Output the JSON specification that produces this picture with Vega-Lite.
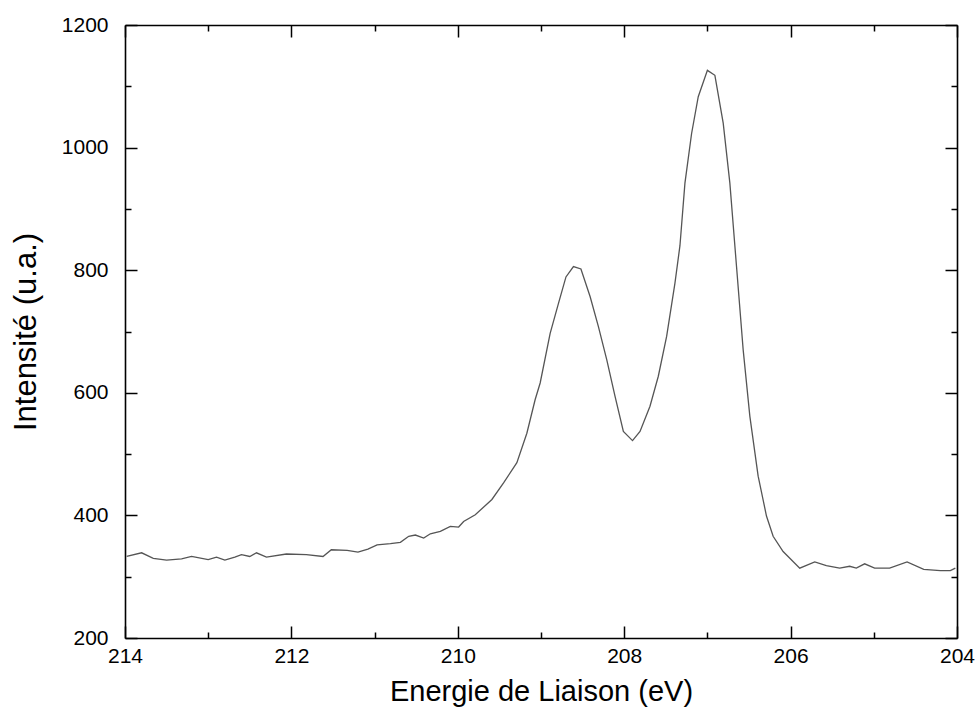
{
  "$schema": "https://vega.github.io/schema/vega-lite/v6.json",
  "width": 832,
  "height": 613,
  "autosize": {"type": "none"},
  "padding": {"left": 125, "top": 25, "right": 23, "bottom": 87},
  "background": "white",
  "config": {
    "view": {"stroke": null},
    "font": "Liberation Sans",
    "axis": {
      "domainColor": "black",
      "domainWidth": 1.6,
      "tickColor": "black",
      "tickWidth": 1.5,
      "grid": false,
      "labelFont": "Liberation Sans",
      "labelColor": "black",
      "titleFont": "Liberation Sans",
      "titleFontWeight": "normal",
      "titleColor": "black",
      "labelOverlap": false,
      "labelFlush": false
    }
  },
  "data": {
    "values": [
      {"E": 213.98, "I": 333}, {"E": 213.80, "I": 339}, {"E": 213.66, "I": 330},
      {"E": 213.50, "I": 327}, {"E": 213.32, "I": 329}, {"E": 213.20, "I": 333},
      {"E": 213.00, "I": 328}, {"E": 212.90, "I": 332}, {"E": 212.80, "I": 327},
      {"E": 212.68, "I": 332}, {"E": 212.60, "I": 336}, {"E": 212.50, "I": 333},
      {"E": 212.42, "I": 339}, {"E": 212.30, "I": 332}, {"E": 212.06, "I": 337},
      {"E": 211.82, "I": 336}, {"E": 211.62, "I": 333}, {"E": 211.52, "I": 344},
      {"E": 211.33, "I": 343}, {"E": 211.20, "I": 340}, {"E": 211.08, "I": 345},
      {"E": 210.97, "I": 352}, {"E": 210.81, "I": 354}, {"E": 210.69, "I": 356},
      {"E": 210.59, "I": 366}, {"E": 210.51, "I": 368}, {"E": 210.41, "I": 363},
      {"E": 210.33, "I": 370}, {"E": 210.21, "I": 374}, {"E": 210.09, "I": 382},
      {"E": 209.99, "I": 381}, {"E": 209.93, "I": 390}, {"E": 209.79, "I": 401},
      {"E": 209.59, "I": 426}, {"E": 209.45, "I": 453}, {"E": 209.29, "I": 486},
      {"E": 209.17, "I": 534}, {"E": 209.07, "I": 589}, {"E": 209.01, "I": 616},
      {"E": 208.89, "I": 697}, {"E": 208.79, "I": 746}, {"E": 208.70, "I": 789},
      {"E": 208.61, "I": 806}, {"E": 208.52, "I": 802}, {"E": 208.41, "I": 757},
      {"E": 208.31, "I": 708}, {"E": 208.21, "I": 654}, {"E": 208.11, "I": 594},
      {"E": 208.01, "I": 537}, {"E": 207.90, "I": 522}, {"E": 207.81, "I": 537},
      {"E": 207.69, "I": 578}, {"E": 207.59, "I": 627}, {"E": 207.49, "I": 692},
      {"E": 207.39, "I": 779}, {"E": 207.33, "I": 840}, {"E": 207.27, "I": 942},
      {"E": 207.19, "I": 1023}, {"E": 207.11, "I": 1083}, {"E": 207.00, "I": 1126},
      {"E": 206.91, "I": 1118}, {"E": 206.81, "I": 1040}, {"E": 206.73, "I": 942},
      {"E": 206.65, "I": 806}, {"E": 206.57, "I": 670}, {"E": 206.49, "I": 562},
      {"E": 206.39, "I": 464}, {"E": 206.29, "I": 399}, {"E": 206.21, "I": 366},
      {"E": 206.09, "I": 341}, {"E": 205.89, "I": 314}, {"E": 205.71, "I": 324},
      {"E": 205.57, "I": 318}, {"E": 205.41, "I": 314}, {"E": 205.29, "I": 317},
      {"E": 205.21, "I": 314}, {"E": 205.11, "I": 321}, {"E": 204.99, "I": 314},
      {"E": 204.81, "I": 314}, {"E": 204.60, "I": 324}, {"E": 204.40, "I": 312},
      {"E": 204.20, "I": 310}, {"E": 204.08, "I": 310}, {"E": 204.02, "I": 314}
    ]
  },
  "resolve": {"axis": {"x": "independent", "y": "independent"}},
  "layer": [
    {
      "mark": {"type": "line", "color": "#555555", "strokeWidth": 1.3, "clip": true},
      "encoding": {
        "x": {
          "field": "E", "type": "quantitative",
          "scale": {"domain": [214, 204], "nice": false, "zero": false},
          "axis": {
            "orient": "bottom",
            "title": "Energie de Liaison (eV)",
            "format": "d",
            "values": [204, 205, 206, 207, 208, 209, 210, 211, 212, 213, 214],
            "tickSize": {"condition": {"test": "datum.value % 2 === 0", "value": -12}, "value": -6},
            "labelExpr": "datum.value % 2 === 0 ? datum.label : ''",
            "labelFontSize": 21,
            "titleFontSize": 29,
            "labelPadding": 19,
            "titlePadding": 5
          }
        },
        "y": {
          "field": "I", "type": "quantitative",
          "scale": {"domain": [200, 1200], "nice": false, "zero": false},
          "axis": {
            "orient": "left",
            "title": "Intensité (u.a.)",
            "format": "d",
            "values": [200, 300, 400, 500, 600, 700, 800, 900, 1000, 1100, 1200],
            "tickSize": {"condition": {"test": "datum.value % 200 === 0", "value": -12}, "value": -6},
            "labelExpr": "datum.value % 200 === 0 ? datum.label : ''",
            "labelFontSize": 21,
            "titleFontSize": 31,
            "labelPadding": 29,
            "titlePadding": 19
          }
        }
      }
    },
    {
      "mark": {"type": "line", "opacity": 0},
      "encoding": {
        "x": {
          "field": "E", "type": "quantitative",
          "scale": {"domain": [214, 204], "nice": false, "zero": false},
          "axis": {
            "orient": "top",
            "title": null,
            "labels": false,
            "values": [204, 205, 206, 207, 208, 209, 210, 211, 212, 213, 214],
            "tickSize": {"condition": {"test": "datum.value % 2 === 0", "value": -12}, "value": -6}
          }
        },
        "y": {
          "field": "I", "type": "quantitative",
          "scale": {"domain": [200, 1200], "nice": false, "zero": false},
          "axis": {
            "orient": "right",
            "title": null,
            "labels": false,
            "values": [200, 300, 400, 500, 600, 700, 800, 900, 1000, 1100, 1200],
            "tickSize": {"condition": {"test": "datum.value % 200 === 0", "value": -12}, "value": -6}
          }
        }
      }
    }
  ]
}
